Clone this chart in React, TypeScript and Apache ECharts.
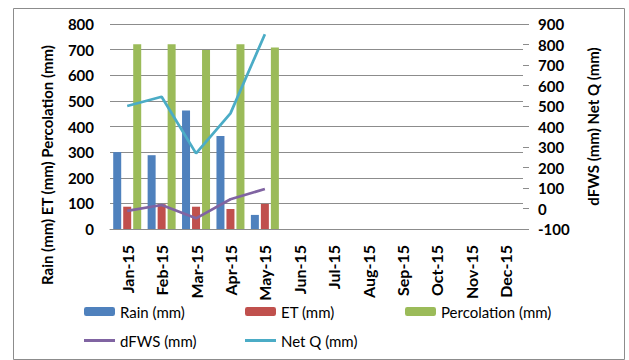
import React, { useEffect, useRef } from "react";
import * as echarts from "echarts";

const months = ["Jan-15","Feb-15","Mar-15","Apr-15","May-15","Jun-15","Jul-15","Aug-15","Sep-15","Oct-15","Nov-15","Dec-15"];
const rain = [300, 288, 462, 363, 55];
const et = [87, 97, 87, 78, 98];
const percolation = [721, 721, 699, 721, 708];
const dfws = [-12, 17, -48, 45, 95];
const netQ = [500, 545, 269, 464, 850];

const FONT = "Lato, 'Noto Sans', sans-serif";

export default function App() {
  const ref = useRef<HTMLDivElement>(null);
  useEffect(() => {
    const chart = echarts.init(ref.current!, undefined, { renderer: "svg" });
    const legendText = { fontFamily: FONT, fontSize: 15, color: "#000" };
    const mkLegend = (name: string, left: number, top: number, line = false) => ({
      data: [line ? { name, icon: "rect" } : name], left, top, padding: 0, itemWidth: 31, itemHeight: line ? 3 : 9,
      itemGap: 0, textStyle: legendText, selectedMode: false,
    });
    chart.setOption({
      animation: false,
      backgroundColor: "#fff",
      grid: { left: 110, right: 106, top: 24, bottom: 131, containLabel: false },
      xAxis: {
        type: "category", data: months,
        axisLine: { show: true, lineStyle: { color: "#8c8c8c", width: 1 } },
        axisTick: { show: false },
        axisLabel: { rotate: 90, margin: 16, fontFamily: FONT, fontWeight: "bold", fontSize: 16, color: "#000", interval: 0 },
      },
      yAxis: [
        {
          type: "value", min: 0, max: 800, interval: 100,
          axisLine: { show: false }, axisTick: { show: false },
          splitLine: { show: true, lineStyle: { color: "#8c8c8c", width: 1 } },
          axisLabel: { margin: 16, fontFamily: FONT, fontWeight: "bold", fontSize: 15, color: "#000" },
        },
        {
          type: "value", min: -100, max: 900, interval: 100, position: "right",
          axisLine: { show: false },
          axisTick: { show: true, length: 6, lineStyle: { color: "#8c8c8c" } },
          splitLine: { show: false },
          axisLabel: { margin: 15, fontFamily: FONT, fontWeight: "bold", fontSize: 15, color: "#000" },
          name: "dFWS (mm) Net Q (mm)", nameLocation: "middle", nameRotate: 90, nameGap: 62,
          nameTextStyle: { fontFamily: FONT, fontWeight: "bold", fontSize: 15, color: "#000" },
        },
      ],
      legend: [
        mkLegend("Rain (mm)", 84, 304),
        mkLegend("ET (mm)", 245, 304),
        mkLegend("Percolation (mm)", 405, 304),
        mkLegend("dFWS (mm)", 84, 333, true),
        mkLegend("Net Q (mm)", 245, 333, true),
      ],
      graphic: [
        { type: "rect", shape: { x: 13.5, y: 8.5, width: 611, height: 351 }, style: { fill: "none", stroke: "#8c8c8c", lineWidth: 1 }, silent: true },
        { type: "text", x: 47, y: 165, rotation: Math.PI / 2, style: { text: "Rain (mm) ET (mm) Percolation (mm)", fontFamily: FONT, fontWeight: "bold", fontSize: 15, fill: "#000", align: "center", verticalAlign: "middle" } },
      ],
      series: [
        { name: "Rain (mm)", type: "bar", data: rain, barWidth: 8, barGap: "25%", itemStyle: { color: "#4F81BD" } },
        { name: "ET (mm)", type: "bar", data: et, barWidth: 8, barGap: "25%", itemStyle: { color: "#C0504D" } },
        { name: "Percolation (mm)", type: "bar", data: percolation, barWidth: 8, barGap: "25%", itemStyle: { color: "#9BBB59" } },
        { name: "dFWS (mm)", type: "line", yAxisIndex: 1, data: dfws, symbol: "none", lineStyle: { color: "#8064A2", width: 2.75 }, itemStyle: { color: "#8064A2" } },
        { name: "Net Q (mm)", type: "line", yAxisIndex: 1, data: netQ, symbol: "none", lineStyle: { color: "#4BACC6", width: 2.75 }, itemStyle: { color: "#4BACC6" } },
      ],
    });
    return () => chart.dispose();
  }, []);
  return <div ref={ref} style={{ position: "fixed", left: 0, top: 0, width: 629, height: 360 }} />;
}
